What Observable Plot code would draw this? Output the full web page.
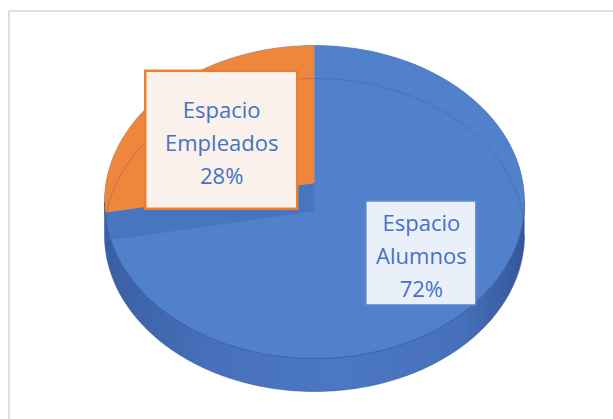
<!DOCTYPE html>
<html>
<head>
<meta charset="utf-8">
<script src="https://cdn.jsdelivr.net/npm/d3@7"></script>
<script src="https://cdn.jsdelivr.net/npm/@observablehq/plot@0.6"></script>
<style>
  html, body { margin: 0; padding: 0; background: #fff; }
  #wrap { position: relative; width: 613px; height: 419px; overflow: hidden; }
  #frame { position: absolute; left: 8px; top: 10px; right: -10px; bottom: -10px;
           border-left: 2px solid #dedede; border-top: 2px solid #dedede; }
  #chart { position: absolute; left: 0; top: 0; }
</style>
</head>
<body>
<div id="wrap"><div id="frame"></div><div id="chart"></div></div>
<script>
// ---- data ----
const categories = ["Espacio Alumnos", "Espacio Empleados"];
const shares = [72, 28];
const labelLines = [["Espacio", "Alumnos"], ["Espacio", "Empleados"]];

// ---- style / layout ----
const W = 613, H = 419;
const geo = {cx: 314, cy: 201.5, rx: 210, ry: 156.5, depth: 33, t: 0.12};
const topColors = {"Espacio Alumnos": "#5181ca", "Espacio Empleados": "#ee873c"};
const labelStyle = {
  "Espacio Alumnos":   {r: 0.65, dx: -3, dy: 3,  w: 110, h: 104, fill: "#eaf0f9", stroke: "#5b87cf", sw: 1.5},
  "Espacio Empleados": {r: 0.55, dx: -8, dy: 9,  w: 152, h: 138, fill: "#fbf1ec", stroke: "#ed7d31", sw: 2.5}
};

// perspective-like projection of a point on the unit disc (angle clockwise from top)
const s = Math.sqrt(1 - geo.t * geo.t);
function proj(theta, r, yOff = 0) {
  const X = r * Math.sin(theta), Z = r * Math.cos(theta);
  const w = 1 + geo.t * Z;
  return {x: geo.cx + geo.rx * X * s / w, y: geo.cy - geo.ry * (Z + geo.t) / w + yOff};
}
function ell(phi, yOff = 0) { // screen ellipse parameter (y down)
  return {x: geo.cx + geo.rx * Math.cos(phi), y: geo.cy + geo.ry * Math.sin(phi) + yOff};
}
const range = (a, b, n) => d3.range(n + 1).map(i => a + (b - a) * i / n);

const pie = d3.pie().sort(null).value(d => d.share)(categories.map((c, i) => ({category: c, share: shares[i], lines: labelLines[i]})));

// slice top faces
const sliceRows = pie.flatMap(p => {
  const pts = [proj(0, 0)].concat(range(p.startAngle, p.endAngle, 180).map(a => proj(a, 1)));
  return pts.map(q => ({...q, category: p.data.category}));
});
// side wall (front half of the cylinder)
const wallRows = range(0, Math.PI, 180).map(f => ell(f)).concat(range(Math.PI, 0, 180).map(f => ell(f, geo.depth)));
const topEllipse = range(0, 2 * Math.PI, 360).map(f => ell(f));
const topFront = range(0, Math.PI, 180).map(f => ell(f));
const backLine = range(Math.PI * 1.02, Math.PI * 1.98, 180).map(f => ell(f, geo.depth));
// cut band below the small slice's edge
const cutA = pie[1].startAngle;
const band = [proj(0, 0), proj(cutA, 1), proj(cutA, 1, geo.depth * 0.85), proj(0, 0, geo.depth * 0.85)];

// labels
const labels = pie.map(p => {
  const st = labelStyle[p.data.category];
  const mid = (p.startAngle + p.endAngle) / 2;
  const q = proj(mid, st.r);
  return {category: p.data.category, x: q.x + st.dx, y: q.y + st.dy, ...st,
          text: p.data.lines.join("\n") + "\n" + Math.round(p.data.share) + "%"};
});

const defs = () => {
  const d = d3.create("svg:defs");
  const g = d.append("linearGradient").attr("id", "side").attr("x1", "0").attr("x2", "1").attr("y1", "0").attr("y2", "0");
  g.append("stop").attr("offset", "0").attr("stop-color", "#3a5ea3");
  g.append("stop").attr("offset", "0.25").attr("stop-color", "#4670ba");
  g.append("stop").attr("offset", "0.55").attr("stop-color", "#4c77c3");
  g.append("stop").attr("offset", "0.85").attr("stop-color", "#4670ba");
  g.append("stop").attr("offset", "1").attr("stop-color", "#34579a");
  const f = d.append("filter").attr("id", "shadow").attr("x", "-20%").attr("y", "-20%").attr("width", "150%").attr("height", "150%");
  f.append("feDropShadow").attr("dx", 3).attr("dy", 4).attr("stdDeviation", 3.5)
    .attr("flood-color", "#1a2a50").attr("flood-opacity", 0.45);
  return d.node();
};

const marks = [
  defs,
  Plot.line(wallRows, {x: "x", y: "y", fill: "url(#side)", stroke: "#3a5c9e", strokeWidth: 0.8, strokeOpacity: 0.7}),
  Plot.line(topEllipse, {x: "x", y: "y", fill: topColors["Espacio Alumnos"], stroke: "#4a6fb0", strokeWidth: 0.8, strokeOpacity: 0.6}),
  ...categories.map(c => Plot.line(sliceRows.filter(d => d.category === c), {x: "x", y: "y", fill: topColors[c], stroke: "none"})),
  Plot.line(band, {x: "x", y: "y", fill: "#3f67b2", fillOpacity: 0.45, stroke: "none"}),
  Plot.line(backLine, {x: "x", y: "y", stroke: "#2f4f8c", strokeOpacity: 0.3, strokeWidth: 1}),
  Plot.line(topFront, {x: "x", y: "y", stroke: "#34579a", strokeOpacity: 0.6, strokeWidth: 1}),
  ...labels.map(l => Plot.rect([l], {
    x1: d => d.x - d.w / 2, x2: d => d.x + d.w / 2, y1: d => d.y - d.h / 2, y2: d => d.y + d.h / 2,
    fill: l.fill, stroke: l.stroke, strokeWidth: l.sw, ariaLabel: "label-box"
  })),
  Plot.text(labels, {x: "x", y: "y", text: "text", fill: "#4472c4", fontSize: 22, lineHeight: 1.5,
                     fontFamily: "Open Sans", lineAnchor: "middle", textAnchor: "middle"})
];

const chart = Plot.plot({
  width: W, height: H, margin: 0,
  x: {domain: [0, W], range: [0, W], axis: null},
  y: {domain: [0, H], range: [0, H], axis: null},
  style: {background: "transparent", overflow: "visible"},
  marks
});
d3.select(chart).selectAll('g[aria-label="label-box"]').attr("filter", "url(#shadow)");
document.getElementById("chart").appendChild(chart);
</script>
</body>
</html>
